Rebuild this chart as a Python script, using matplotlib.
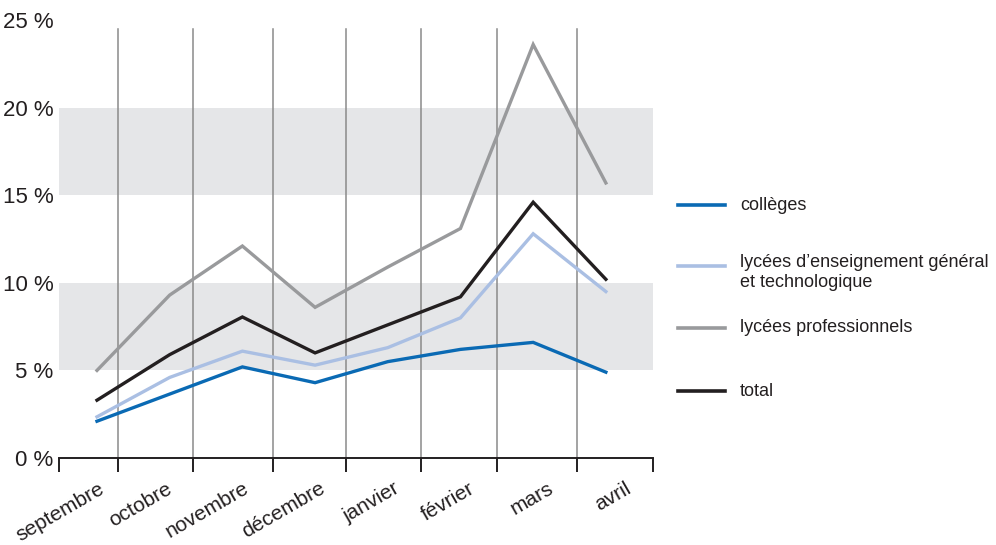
import matplotlib
matplotlib.use('Agg')
import matplotlib.pyplot as plt
import matplotlib.transforms as mtransforms
from matplotlib.lines import Line2D

plt.rcParams['font.family'] = ['Liberation Sans Narrow', 'Liberation Sans', 'DejaVu Sans']

# Data
mois = ['septembre', 'octobre', 'novembre', 'décembre', 'janvier', 'février', 'mars', 'avril']
colleges = [2.1, 3.65, 5.2, 4.3, 5.5, 6.2, 6.6, 4.9]
lycees_gt = [2.35, 4.6, 6.1, 5.3, 6.3, 8.0, 12.8, 9.5]
lycees_pro = [5.0, 9.3, 12.1, 8.6, 10.9, 13.1, 23.6, 15.7]
total = [3.3, 5.9, 8.05, 6.0, 7.6, 9.2, 14.6, 10.2]
yticks = [0, 5, 10, 15, 20, 25]

series = [
    ('collèges', colleges, '#0a6ab4'),
    ('lycées d\u2019enseignement général\net technologique', lycees_gt, '#aabfe3'),
    ('lycées professionnels', lycees_pro, '#999a9c'),
    ('total', total, '#231f20'),
]

fig = plt.figure(figsize=(9.96, 5.45), dpi=100)
ax = fig.add_axes([0.0592, 0.1596, 0.5964, 0.8037])

x = list(range(len(mois)))
# month boundaries (irregular in the original)
bounds = [-0.523, 0.289, 1.32, 2.42, 3.425, 4.457, 5.50, 6.60, 7.648]

# grey bands
ax.axhspan(5, 10, color='#e5e6e8', lw=0, zorder=0)
ax.axhspan(15, 20, color='#e5e6e8', lw=0, zorder=0)

# vertical separators
for b in bounds[1:-1]:
    ax.plot([b, b], [0, 24.5], color='#8a8a8a', lw=1.1, zorder=1)

for name, vals, col in series:
    ax.plot(x, vals, color=col, lw=2.4, zorder=3, solid_joinstyle='miter')

ax.set_xlim(bounds[0], bounds[-1])
ax.set_ylim(0, 25)

for s in ['top', 'right', 'left']:
    ax.spines[s].set_visible(False)
ax.spines['bottom'].set_linewidth(1.4)
ax.spines['bottom'].set_color('#231f20')

ax.set_xticks(bounds)
ax.set_xticklabels([])
ax.tick_params(axis='x', which='major', direction='out', length=10, width=1.4, color='#231f20')

mids = [(bounds[i] + bounds[i + 1]) / 2 for i in range(len(mois))]
ax.set_xticks(mids, minor=True)
ax.set_xticklabels(mois, minor=True, rotation=30, ha='right', fontsize=15, color='#231f20')
ax.tick_params(axis='x', which='minor', length=0, pad=15)
offset = mtransforms.ScaledTranslation(14 / 72, 0, fig.dpi_scale_trans)
for lab in ax.get_xticklabels(minor=True):
    lab.set_transform(lab.get_transform() + offset)

ax.set_yticks(yticks)
ax.set_yticklabels([f'{v} %' for v in yticks], fontsize=16, color='#231f20')
ax.tick_params(axis='y', length=0, pad=4)

# legend drawn by hand
W, H = 996, 545
leg_y = [205, 266, 328, 391]
for (name, vals, col), yy in zip(series, leg_y):
    fig.add_artist(Line2D([678 / W, 725 / W], [1 - yy / H, 1 - yy / H], color=col, lw=2.6))
    va = 'center' if '\n' not in name else 'top'
    ty = 1 - yy / H if va == 'center' else 1 - (yy - 12) / H
    fig.text(740 / W, ty, name, fontsize=13, color='#231f20', va=va, ha='left', linespacing=1.25)

fig.savefig('out.png', dpi=100)
